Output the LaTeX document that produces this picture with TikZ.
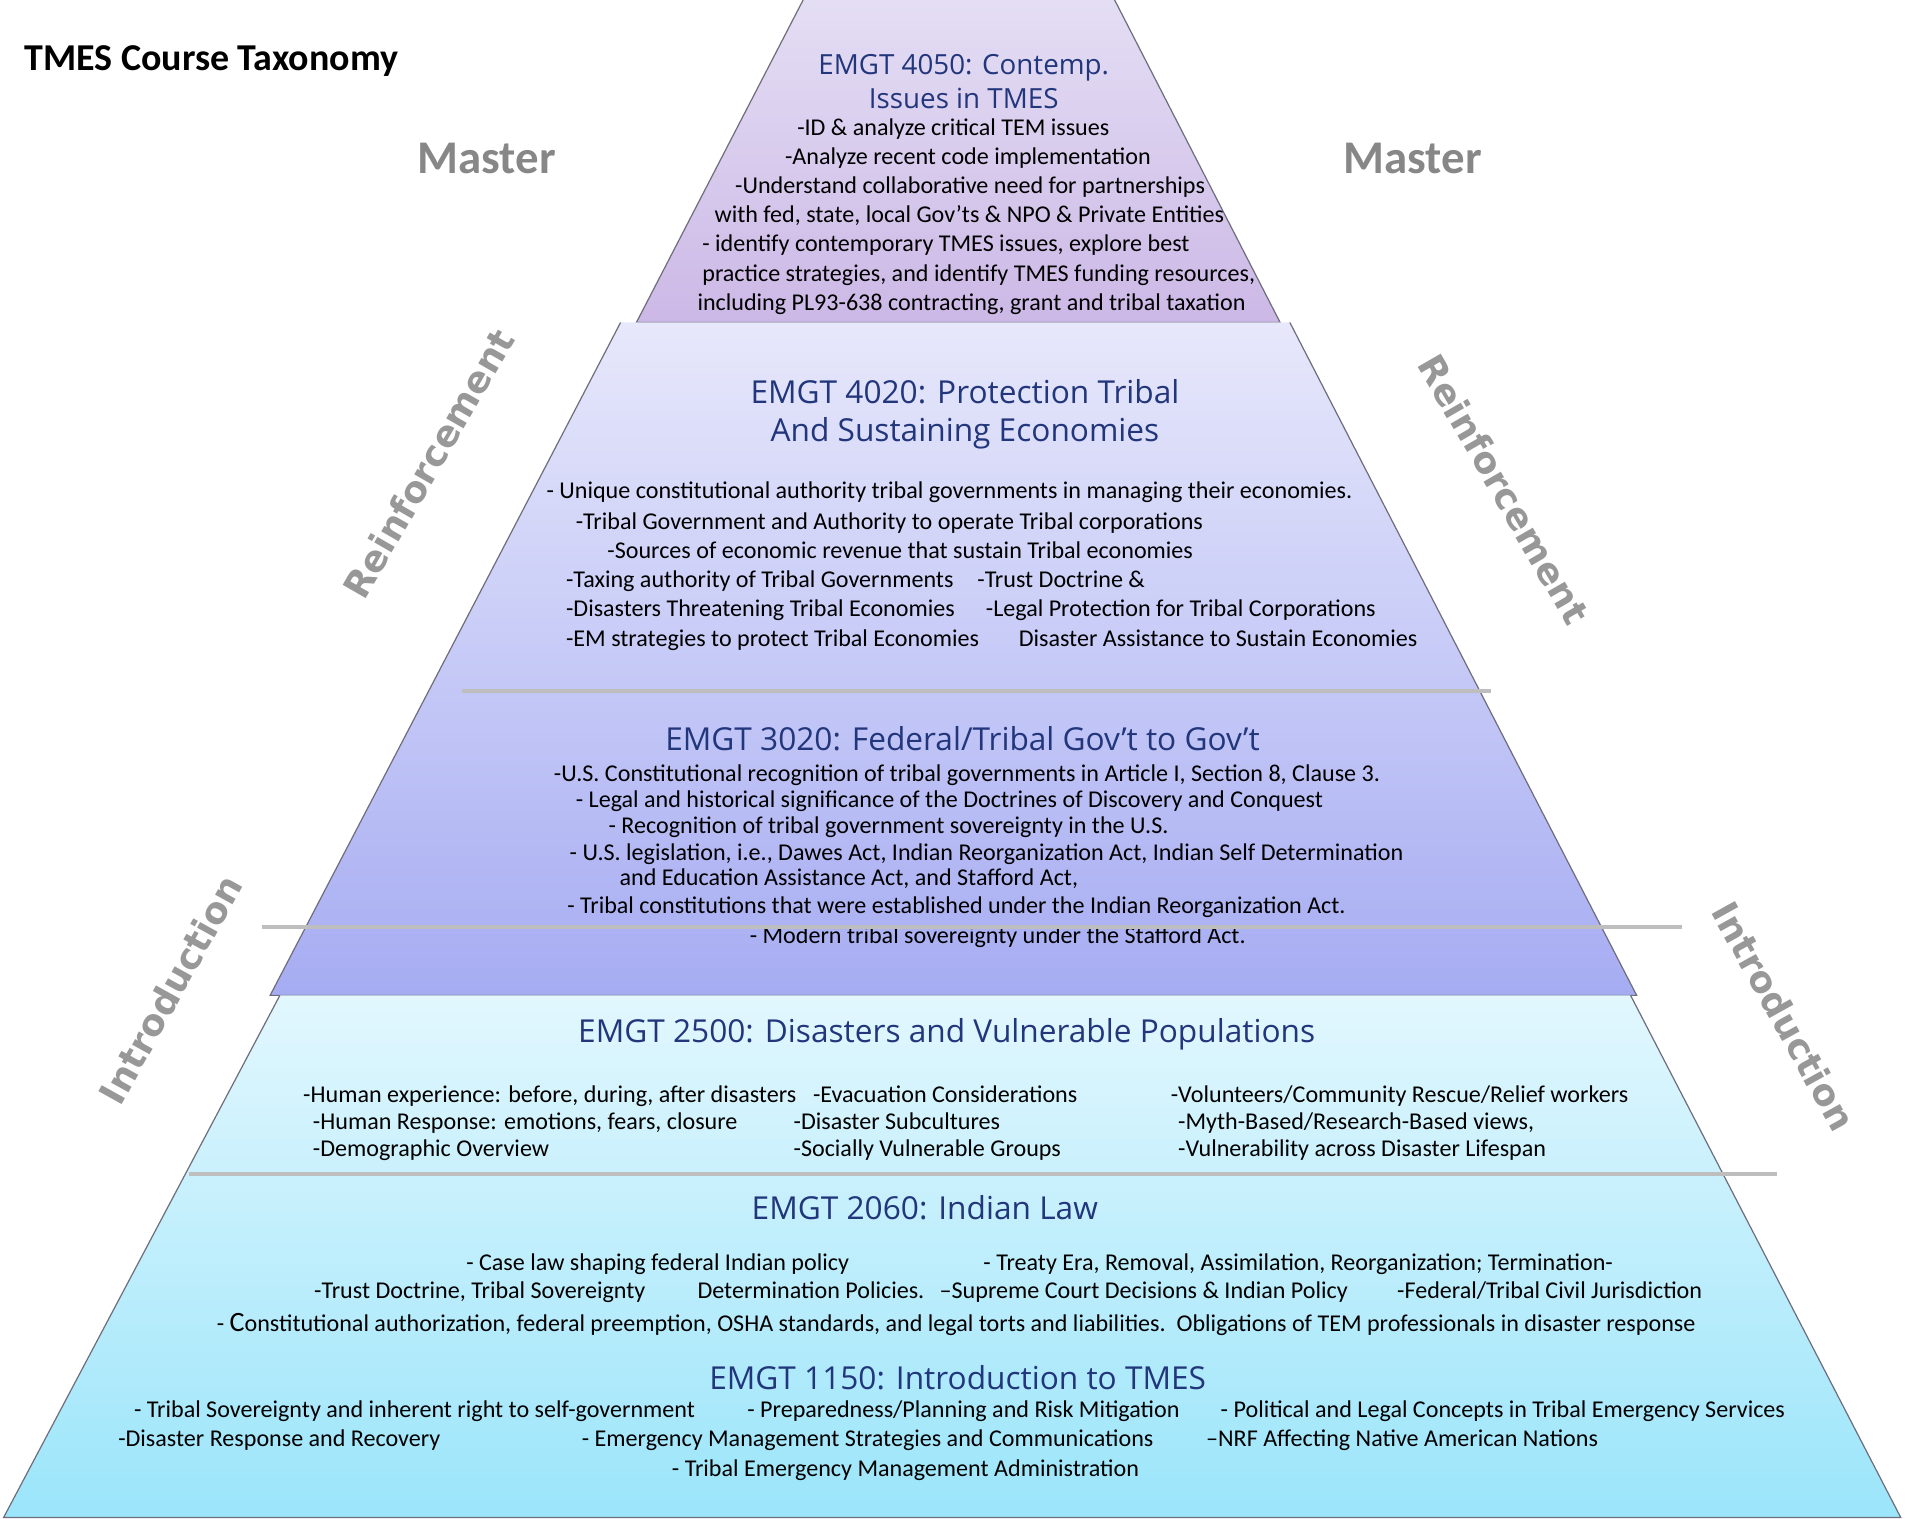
\documentclass[tikz,border=0pt]{standalone}
\usepackage{fontspec}
\setmainfont{Carlito}
\newfontfamily\headfont{Open Sans}
\newfontfamily\sidefont{DejaVu Sans}
\definecolor{headblue}{RGB}{34,54,124}
\definecolor{sidegray}{RGB}{152,152,152}
\definecolor{mastergray}{RGB}{135,135,135}
\definecolor{sepgray}{RGB}{190,190,190}
\definecolor{edgegray}{RGB}{110,110,125}
\definecolor{ptop}{RGB}{228,222,244}
\definecolor{pbot}{RGB}{204,184,230}
\definecolor{ltop}{RGB}{231,232,251}
\definecolor{lbot}{RGB}{166,172,242}
\definecolor{ctop}{RGB}{226,247,254}
\definecolor{cbot}{RGB}{155,229,250}
\begin{document}
\begin{tikzpicture}[x=1pt,y=-1pt,
  body/.style={font=\fontsize{19.8}{22}\selectfont, anchor=base west, inner sep=0pt},
  head/.style={font=\headfont\fontsize{26}{30}\selectfont, text=headblue, anchor=base, inner sep=0pt},
  sidelbl/.style={font=\sidefont\bfseries\fontsize{30}{34}\selectfont, text=sidegray, inner sep=0pt},
  masterlbl/.style={font=\bfseries\fontsize{38.5}{42}\selectfont, text=mastergray, inner sep=0pt},
  tieredge/.style={draw=edgegray, line width=1pt},
  sep/.style={draw=sepgray, line width=3pt}]
\useasboundingbox (0,0) rectangle (1568,1248);
% tiers
\shade[top color=ptop, bottom color=pbot] (660,0) -- (916,0) -- (1052,265) -- (523,265) -- cycle;
\draw[tieredge] (660,0) -- (523,265) -- (1052,265) -- (916,0);
\shade[top color=ltop, bottom color=lbot] (510,265) -- (1060,265) -- (1345,818) -- (222,818) -- cycle;
\draw[tieredge] (510,265) -- (222,818) -- (1345,818) -- (1060,265);
\shade[top color=ctop, bottom color=cbot] (230,818) -- (1340,818) -- (1562,1247) -- (3,1247) -- cycle;
\draw[tieredge] (230,818) -- (3,1247) -- (1562,1247) -- (1340,818);
% separators
\draw[sep] (380,568) -- (1225,568);
\draw[sep] (155,965) -- (1460,965);

% title and side labels
\node[font=\bfseries\fontsize{31.2}{34}\selectfont, anchor=west, inner sep=0pt] (title) at (20,50) {TMES Course Taxonomy};
\node[masterlbl] (mL) at (400,130) {Master};
\node[masterlbl] (mR) at (1161,130) {Master};
\node[sidelbl, rotate=60] (rL) at (352,381) {Reinforcement};
\node[sidelbl, rotate=-60] (rR) at (1236,402) {Reinforcement};
\node[sidelbl, rotate=61] (iL) at (140,813) {Introduction};
\node[sidelbl, rotate=-61] (iR) at (1466,835) {Introduction};

% Tier 1: EMGT 4050
\node[head, font=\headfont\fontsize{22.8}{26}\selectfont] (h4050a) at (792,61) {EMGT 4050: Contemp.};
\node[head, font=\headfont\fontsize{22.8}{26}\selectfont] (h4050b) at (792,89) {Issues in TMES};
\node[body] (a1) at (655,111) {-ID \& analyze critical TEM issues};
\node[body] (a2) at (645,135) {-Analyze recent code implementation};
\node[body] (a3) at (604,159) {-Understand collaborative need for partnerships};
\node[body] (a4) at (587,183) {with fed, state, local Gov’ts \& NPO \& Private Entities};
\node[body] (a5) at (577,207) {- identify contemporary TMES issues, explore best};
\node[body] (a6) at (577,231) {practice strategies, and identify TMES funding resources,};
\node[body] (a7) at (573,255) {including PL93-638 contracting, grant and tribal taxation};

% Tier 2: EMGT 4020
\node[head] (h4020a) at (793,332) {EMGT 4020: Protection Tribal};
\node[head] (h4020b) at (793,363) {And Sustaining Economies};
\node[body] (b1) at (449,410) {- Unique constitutional authority tribal governments in managing their economies.};
\node[body] (b2) at (473,435) {-Tribal Government and Authority to operate Tribal corporations};
\node[body] (b3) at (499,459) {-Sources of economic revenue that sustain Tribal economies};
\node[body] (b4) at (465,483) {-Taxing authority of Tribal Governments};
\node[body] (b5) at (803,483) {-Trust Doctrine \&};
\node[body] (b6) at (465,507) {-Disasters Threatening Tribal Economies};
\node[body] (b7) at (810,507) {-Legal Protection for Tribal Corporations};
\node[body] (b8) at (465,531) {-EM strategies to protect Tribal Economies};
\node[body] (b9) at (837,531) {Disaster Assistance to Sustain Economies};

% Tier 2: EMGT 3020
\node[head] (h3020) at (791,617) {EMGT 3020: Federal/Tribal Gov’t to Gov’t};
\node[body] (c1) at (455,642) {-U.S. Constitutional recognition of tribal governments in Article I, Section 8, Clause 3.};
\node[body] (c2) at (473,664) {- Legal and historical significance of the Doctrines of Discovery and Conquest};
\node[body] (c3) at (500,685) {- Recognition of tribal government sovereignty in the U.S.};
\node[body] (c4) at (468,707) {- U.S. legislation, i.e., Dawes Act, Indian Reorganization Act, Indian Self Determination};
\node[body] (c5) at (509,728) {and Education Assistance Act, and Stafford Act,};
\node[body] (c6) at (466,751) {- Tribal constitutions that were established under the Indian Reorganization Act.};
\node[body] (c7) at (616,775) {- Modern tribal sovereignty under the Stafford Act.};
\draw[sep] (215,762) -- (1382,762);

% Tier 3: EMGT 2500
\node[head] (h2500) at (778,857) {EMGT 2500: Disasters and Vulnerable Populations};
\node[body] (d1) at (249,906) {-Human experience: before, during, after disasters};
\node[body] (d2) at (257,928) {-Human Response: emotions, fears, closure};
\node[body] (d3) at (257,950) {-Demographic Overview};
\node[body] (d4) at (668,906) {-Evacuation Considerations};
\node[body] (d5) at (652,928) {-Disaster Subcultures};
\node[body] (d6) at (652,950) {-Socially Vulnerable Groups};
\node[body] (d7) at (962,906) {-Volunteers/Community Rescue/Relief workers};
\node[body] (d8) at (968,928) {-Myth-Based/Research-Based views,};
\node[body] (d9) at (968,950) {-Vulnerability across Disaster Lifespan};

% EMGT 2060
\node[head] (h2060) at (760,1002) {EMGT 2060: Indian Law};
\node[body] (e1) at (383,1044) {- Case law shaping federal Indian policy};
\node[body] (e2) at (808,1044) {- Treaty Era, Removal, Assimilation, Reorganization; Termination-};
\node[body] (e3) at (258,1067) {-Trust Doctrine, Tribal Sovereignty};
\node[body] (e4) at (573,1067) {Determination Policies.};
\node[body] (e5) at (772,1067) {–Supreme Court Decisions \& Indian Policy};
\node[body] (e6) at (1148,1067) {-Federal/Tribal Civil Jurisdiction};
\node[body] (e7) at (178,1094) {- {\fontsize{23}{26}\selectfont C}onstitutional authorization, federal preemption, OSHA standards, and legal torts and liabilities.\ \ Obligations of TEM professionals in disaster response};

% EMGT 1150
\node[head] (h1150) at (787,1142) {EMGT 1150: Introduction to TMES};
\node[body] (f1) at (110,1165) {- Tribal Sovereignty and inherent right to self-government};
\node[body] (f2) at (614,1165) {- Preparedness/Planning and Risk Mitigation};
\node[body] (f3) at (1003,1165) {- Political and Legal Concepts in Tribal Emergency Services};
\node[body] (f4) at (97,1189) {-Disaster Response and Recovery};
\node[body] (f5) at (478,1189) {- Emergency Management Strategies and Communications};
\node[body] (f6) at (991,1189) {–NRF Affecting Native American Nations};
\node[body] (f7) at (552,1213) {- Tribal Emergency Management Administration};
\end{tikzpicture}
\end{document}
